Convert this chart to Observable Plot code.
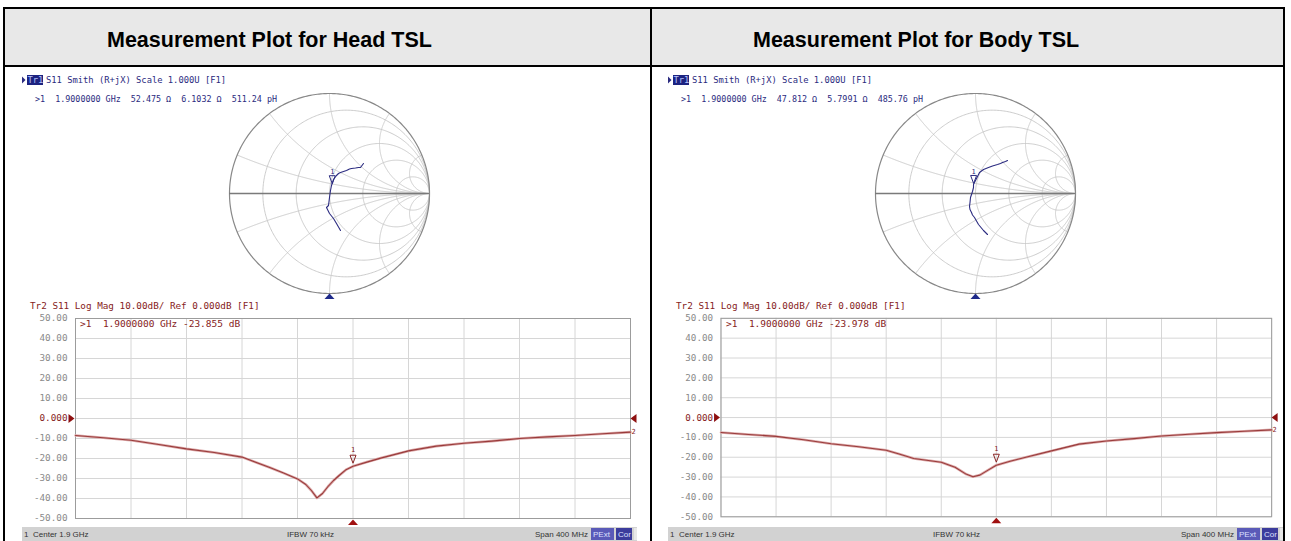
<!DOCTYPE html>
<html><head><meta charset="utf-8">
<script src="https://cdn.jsdelivr.net/npm/d3@7"></script>
<script src="https://cdn.jsdelivr.net/npm/@observablehq/plot@0.6"></script>
<style>
body{margin:0;background:#fff;}
#page{position:relative;width:1291px;height:541px;overflow:hidden;background:#fff;}
.abs{position:absolute;}
.abs svg{overflow:visible;}
</style></head><body><div id="page"></div>
<script>
// ---------------- data ----------------
const panelTitles = ["Measurement Plot for Head TSL", "Measurement Plot for Body TSL"];
const markerFreq = 1.9;
const markerDb = [-23.855, -23.978];
const markerR = [52.475, 47.812];
const markerX = [6.1032, 5.7991];
const markerL = [511.24, 485.76];

const freqHead = [1.70,1.72,1.74,1.76,1.78,1.80,1.82,1.84,1.85,1.86,1.866,1.870,1.874,1.878,1.882,1.886,1.890,1.895,1.90,1.91,1.92,1.94,1.96,1.98,2.00,2.02,2.04,2.06,2.08,2.10];
const dbHead   = [-8.5,-9.6,-10.9,-13.0,-15.2,-17.0,-19.3,-24.5,-27.3,-30.2,-33.0,-36.0,-39.7,-37.5,-34.0,-31.0,-28.5,-25.6,-23.9,-21.8,-19.8,-16.2,-13.8,-12.4,-11.3,-10.0,-9.2,-8.5,-7.6,-6.8];

const freqBody = [1.70,1.72,1.74,1.76,1.78,1.80,1.82,1.83,1.84,1.86,1.87,1.878,1.883,1.888,1.894,1.90,1.91,1.92,1.94,1.96,1.98,2.00,2.02,2.04,2.06,2.08,2.10];
const dbBody   = [-7.5,-8.5,-9.5,-11.2,-13.2,-14.7,-16.5,-18.5,-20.6,-22.5,-25.0,-28.5,-29.8,-29.0,-26.5,-24.0,-22.0,-20.3,-16.8,-13.4,-11.8,-10.6,-9.3,-8.4,-7.6,-6.9,-6.2];

const smithHeadRe = [0.11,0.09,0.07,0.055,0.04,0.02,0.00,-0.015,-0.03,-0.01,-0.005,0.00,0.005,0.01,0.02,0.03,0.04,0.055,0.07,0.09,0.11,0.14,0.17,0.20,0.22,0.26,0.29,0.31,0.325,0.34];
const smithHeadIm = [-0.37,-0.335,-0.30,-0.275,-0.25,-0.225,-0.20,-0.17,-0.14,-0.12,-0.08,-0.04,-0.005,0.03,0.08,0.11,0.14,0.16,0.18,0.20,0.21,0.22,0.23,0.245,0.25,0.255,0.26,0.26,0.28,0.30];
const smithBodyRe = [0.12,0.10,0.08,0.055,0.03,0.01,-0.01,-0.03,-0.04,-0.055,-0.06,-0.055,-0.05,-0.04,-0.03,-0.02,-0.02,-0.005,0.01,0.025,0.04,0.06,0.08,0.105,0.13,0.17,0.22,0.25,0.27,0.30,0.32];
const smithBodyIm = [-0.41,-0.39,-0.37,-0.34,-0.31,-0.275,-0.24,-0.215,-0.19,-0.16,-0.13,-0.09,-0.04,-0.01,0.02,0.06,0.09,0.12,0.15,0.18,0.21,0.225,0.24,0.25,0.26,0.275,0.29,0.30,0.31,0.32,0.33];

const yTicks = [50,40,30,20,10,0,-10,-20,-30,-40,-50];
const xTicks = [1.70,1.74,1.78,1.82,1.86,1.90,1.94,1.98,2.02,2.06,2.10];
const smithR = [0.2,0.5,1,2,5];
const smithX = [0.2,0.5,1,2,5];
const statusTexts = ["Center 1.9 GHz", "IFBW 70 kHz", "Span 400 MHz"];

// ---------------- style ----------------
const NAVY = "#2b2b80", RED = "#862222", TRACE_RED = "#9a3c3c", GRAY = "#8a8a8a";
const MONO = "DejaVu Sans Mono, monospace";
const page = document.getElementById("page");
const PANEL_DX = 646;

function box(l,t,w,h,bg){const d=document.createElement("div");d.className="abs";Object.assign(d.style,{left:l+"px",top:t+"px",width:w+"px",height:h+"px",background:bg});page.appendChild(d);return d;}
function place(el,l,t){const d=document.createElement("div");d.className="abs";d.style.left=l+"px";d.style.top=t+"px";d.appendChild(el);page.appendChild(d);}

// custom symbols
const triUp   = {draw(c){c.moveTo(-5,2.5);c.lineTo(5,2.5);c.lineTo(0,-3);c.closePath();}};
const triDown = {draw(c){c.moveTo(-3,-4);c.lineTo(3,-4);c.lineTo(0,4);c.closePath();}};
const triLeft = {draw(c){c.moveTo(3,-4.5);c.lineTo(3,4.5);c.lineTo(-3,0);c.closePath();}};
const triRight= {draw(c){c.moveTo(-3,-4.5);c.lineTo(-3,4.5);c.lineTo(3,0);c.closePath();}};

// table background & borders
box(5,9,1278,56,"#e8e8e8");
box(3,7,1282,2,"#000"); box(3,65,1282,2,"#000");
box(3,7,2,534,"#000"); box(650,7,2,534,"#000"); box(1283,7,2,534,"#000");

// smith geometry helper
function gamma(r,x){const nr=r-1,dr=r+1,den=dr*dr+x*x;return [(nr*dr+x*x)/den,(x*dr-nr*x)/den];}
const smithGrid=[];
smithR.forEach((r,i)=>{const c=r/(1+r),rad=1/(1+r);for(let k=0;k<=360;k++){const t=k/360*2*Math.PI;smithGrid.push({x:c+rad*Math.cos(t),y:rad*Math.sin(t),id:"r"+i});}});
smithX.forEach((xv,i)=>{[1,-1].forEach(s=>{for(let k=0;k<=300;k++){const u=k/300;const r=k===300?1e7:u/(1-u);const g=gamma(r,s*xv);smithGrid.push({x:g[0],y:g[1],id:"x"+i+"_"+s});}});});
const outer=[];for(let k=0;k<=360;k++){const t=k/360*2*Math.PI;outer.push({x:Math.cos(t),y:Math.sin(t)});}

function smithPlot(re,im,p){
  const trace=re.map((v,i)=>({re:v,im:im[i]}));
  const g=gamma(markerR[p]/50,markerX[p]/50);
  const mk=[{re:g[0],im:g[1]}];
  return Plot.plot({width:220,height:220,margin:10,
    x:{domain:[-1,1],axis:null},y:{domain:[-1,1],axis:null},
    style:{background:"transparent",overflow:"visible"},
    marks:[
      Plot.line(smithGrid,{x:"x",y:"y",z:"id",stroke:"#c6c6c6",strokeWidth:0.9}),
      Plot.line(outer,{x:"x",y:"y",stroke:"#888888",strokeWidth:1.2}),
      Plot.ruleY([0],{stroke:"#7a7a7a",strokeWidth:1.6}),
      Plot.line(trace,{x:"re",y:"im",stroke:NAVY,strokeWidth:1.1}),
      Plot.dot(mk,{x:"re",y:"im",symbol:triDown,r:3,stroke:NAVY,fill:"none",strokeWidth:1,dy:-8}),
      Plot.text(mk,{x:"re",y:"im",text:()=>"1",fill:NAVY,fontSize:7,fontFamily:MONO,dy:-16}),
      Plot.dot([{x:0}],{x:"x",frameAnchor:"bottom",symbol:triUp,r:3,fill:"#1e2a8a",stroke:"none",dy:3})
    ]});
}

function logPlot(freq,db,p){
  const data=freq.map((f,i)=>({f,db:db[i]}));
  const mk=[{f:markerFreq,db:markerDb[p]}];
  const last=[data[data.length-1]];
  return Plot.plot({width:640,height:232,marginLeft:65,marginRight:20,marginTop:20,marginBottom:12,
    x:{domain:[1.7,2.1],axis:null},y:{domain:[-50,50],axis:null},
    style:{background:"transparent",overflow:"visible"},
    marks:[
      Plot.ruleX(xTicks,{stroke:"#d6d6d6"}),
      Plot.ruleY(yTicks,{stroke:"#d6d6d6"}),
      Plot.frame({stroke:"#9c9c9c"}),
      Plot.text(yTicks,{x:()=>xTicks[0],y:d=>d,text:d=>d===0?"0.000":d.toFixed(2),textAnchor:"end",dx:-8,fill:d=>d===0?RED:GRAY,fontFamily:MONO,fontSize:9.3}),
      Plot.dot([0],{x:()=>xTicks[0],y:d=>d,symbol:triRight,r:3,fill:"#8e1010",dx:-4}),
      Plot.dot([0],{x:()=>xTicks[xTicks.length-1],y:d=>d,symbol:triLeft,r:3,fill:"#8e1010",dx:3}),
      Plot.line(data,{x:"f",y:"db",stroke:"#dcaaaa",strokeWidth:2.6}),
      Plot.line(data,{x:"f",y:"db",stroke:TRACE_RED,strokeWidth:1.1}),
      Plot.text(last,{x:"f",y:"db",text:()=>"2",fill:RED,fontSize:7,fontFamily:MONO,dx:3}),
      Plot.dot(mk,{x:"f",y:"db",symbol:triDown,r:3,stroke:RED,fill:"none",strokeWidth:1,dy:-7}),
      Plot.text(mk,{x:"f",y:"db",text:()=>"1",fill:RED,fontSize:7,fontFamily:MONO,dy:-16}),
      Plot.dot(mk,{x:"f",frameAnchor:"bottom",symbol:triUp,r:3,fill:"#a01010",stroke:"none",dy:4})
    ]});
}

const panels=[{fr:freqHead,db:dbHead,re:smithHeadRe,im:smithHeadIm},{fr:freqBody,db:dbBody,re:smithBodyRe,im:smithBodyIm}];
panels.forEach((P,p)=>{
  const dx=p*PANEL_DX;
  box(22+dx,527,615,16,"#d2d2d2");
  place(smithPlot(P.re,P.im,p),219+dx,83);
  place(logPlot(P.fr,P.db,p),10+dx,298);
});

// text overlay
const ov=d3.select(page).append("svg").attr("class","abs").style("left","0px").style("top","0px")
  .attr("width",1291).attr("height",541).style("pointer-events","none");
function txt(x,y,s,o={}){return ov.append("text").attr("x",x).attr("y",y).text(s)
  .attr("font-family",o.ff||MONO).attr("font-size",o.fs||8.8).attr("fill",o.fill||"#000")
  .attr("font-weight",o.fw||"normal").attr("text-anchor",o.anchor||"start").style("white-space","pre").attr("xml:space","preserve");}
panels.forEach((P,p)=>{
  const dx=p*PANEL_DX;
  txt(107+dx,47,panelTitles[p],{ff:"Liberation Sans, Arial, sans-serif",fs:21.5,fw:"bold"});
  // trace 1 header
  ov.append("path").attr("d",`M${22+dx},76.5 L${22+dx},83.5 L${25.5+dx},80 Z`).attr("fill",NAVY);
  ov.append("rect").attr("x",27+dx).attr("y",75).attr("width",16).attr("height",10).attr("fill","#1d2380");
  txt(27.5+dx,83,"Tr1",{fill:"#b8c4ff"});
  txt(46+dx,83,"S11 Smith (R+jX) Scale 1.000U [F1]",{fill:NAVY});
  txt(35+dx,101.5,`>1  1.9000000 GHz  ${markerR[p].toFixed(3)} Ω  ${markerX[p].toFixed(4)} Ω  ${markerL[p].toFixed(2)} pH`,{fill:NAVY,fs:8.4});
  // trace 2 header
  txt(30+dx,309,"Tr2 S11 Log Mag 10.00dB/ Ref 0.000dB [F1]",{fill:RED,fs:9.3});
  txt(80+dx,327,`>1  1.9000000 GHz ${markerDb[p].toFixed(3)} dB`,{fill:RED,fs:9.5});
  // status bar
  const SF={ff:"Liberation Sans, Arial, sans-serif",fs:8,fill:"#333"};
  txt(24+dx,537,"1",SF);
  txt(33+dx,537,statusTexts[0],SF);
  txt(287+dx,537,statusTexts[1],SF);
  txt(535+dx,537,statusTexts[2],SF);
  ov.append("rect").attr("x",591+dx).attr("y",528).attr("width",23).attr("height",12).attr("fill","#5a5ab8");
  txt(593+dx,537,"PExt",{...SF,fill:"#dde0ff"});
  ov.append("rect").attr("x",616+dx).attr("y",528).attr("width",16).attr("height",12).attr("fill","#3c3c9c");
  txt(618+dx,537,"Cor",{...SF,fill:"#dde0ff"});
  ov.append("rect").attr("x",634+dx).attr("y",528).attr("width",3).attr("height",12).attr("fill","#e8e8e8");
});
</script></body></html>
